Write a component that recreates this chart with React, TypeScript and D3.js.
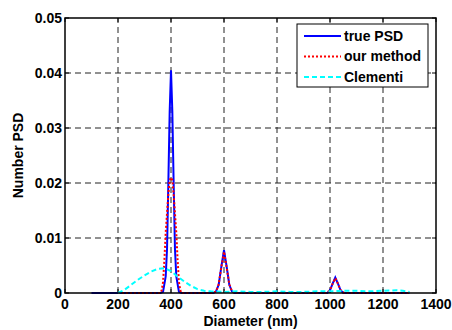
import * as d3 from 'd3';

// true PSD (blue)
const trueD = [100, 360, 370, 380, 385, 390, 395, 400, 405, 410, 415, 420, 430, 440, 560, 570, 580, 590, 600, 610, 620, 630, 640, 990, 1000, 1010, 1020, 1030, 1040, 1050, 1300];
const trueV = [0, 0, 0.0002, 0.003, 0.008, 0.02, 0.033, 0.0405, 0.033, 0.02, 0.008, 0.003, 0.0002, 0, 0, 0.0003, 0.0015, 0.0048, 0.0078, 0.0048, 0.0015, 0.0003, 0, 0, 0.0005, 0.0017, 0.0028, 0.0017, 0.0005, 0, 0];

// our method (red dotted)
const ourD = [200, 360, 365, 370, 375, 380, 390, 395, 400, 405, 410, 420, 425, 430, 435, 440, 560, 570, 580, 590, 600, 610, 620, 630, 640, 985, 1000, 1010, 1020, 1030, 1040, 1055, 1300];
const ourV = [0, 0, 0.0005, 0.002, 0.006, 0.011, 0.018, 0.0205, 0.021, 0.0205, 0.018, 0.011, 0.006, 0.002, 0.0005, 0, 0, 0.0003, 0.0016, 0.0047, 0.0075, 0.0047, 0.0016, 0.0003, 0, 0, 0.0005, 0.0017, 0.0027, 0.0017, 0.0005, 0, 0];

// Clementi (cyan dashed)
const clemD = [200, 225, 250, 275, 300, 325, 350, 375, 400, 425, 450, 475, 500, 525, 550, 600, 650, 700, 750, 800, 850, 900, 950, 1000, 1050, 1100, 1150, 1200, 1250, 1275, 1300];
const clemV = [0, 0.0006, 0.0015, 0.0024, 0.0032, 0.0039, 0.0044, 0.0045, 0.004, 0.003, 0.0021, 0.0013, 0.0007, 0.0004, 0.0003, 0.0002, 0.0003, 0.0002, 0.0002, 0.0003, 0.0002, 0.0002, 0.0003, 0.0003, 0.0004, 0.0004, 0.0003, 0.0004, 0.0005, 0.0004, 0.0002];

const xTicks = [0, 200, 400, 600, 800, 1000, 1200, 1400];
const yTicks = [0, 0.01, 0.02, 0.03, 0.04, 0.05];
const yTickLabels = ['0', '0.01', '0.02', '0.03', '0.04', '0.05'];

const legendItems = [
  { label: 'true PSD', color: '#0000ff', dash: 'none' },
  { label: 'our method', color: '#ff0000', dash: '2,2' },
  { label: 'Clementi', color: '#00ffff', dash: '5,3' },
];

const W = 452;
const H = 330;
const m = { left: 65, right: 16, top: 18, bottom: 37 };
const font = '"Liberation Sans", Arial, Helvetica, sans-serif';

export default function App() {
  const x = d3.scaleLinear().domain([0, 1400]).range([m.left, W - m.right]);
  const y = d3.scaleLinear().domain([0, 0.05]).range([H - m.bottom, m.top]);

  const line = (ds: number[], vs: number[]) =>
    d3.line<number>()
      .x((d) => x(d))
      .y((_, i) => y(vs[i]))(ds) || '';

  const x0 = x(0), x1 = x(1400), y0 = y(0), y1 = y(0.05);
  const tick = 4;

  const lg = { x: 297, y: 24, w: 131, h: 63 };

  return (
    <svg width={W} height={H} style={{ position: 'absolute', left: 0, top: 0, background: '#fff' }}>
      <rect x={0} y={0} width={W} height={H} fill="#fff" />
      {/* grid */}
      <g stroke="#222" strokeWidth={1} strokeDasharray="6,4">
        {xTicks.slice(1, -1).map((t) => (
          <line key={'gx' + t} x1={x(t)} x2={x(t)} y1={y0} y2={y1} />
        ))}
        {yTicks.slice(1, -1).map((t) => (
          <line key={'gy' + t} x1={x0} x2={x1} y1={y(t)} y2={y(t)} />
        ))}
      </g>
      {/* ticks */}
      <g stroke="#000" strokeWidth={1}>
        {xTicks.map((t) => (
          <g key={'tx' + t}>
            <line x1={x(t)} x2={x(t)} y1={y0} y2={y0 - tick} />
            <line x1={x(t)} x2={x(t)} y1={y1} y2={y1 + tick} />
          </g>
        ))}
        {yTicks.map((t) => (
          <g key={'ty' + t}>
            <line x1={x0} x2={x0 + tick} y1={y(t)} y2={y(t)} />
            <line x1={x1} x2={x1 - tick} y1={y(t)} y2={y(t)} />
          </g>
        ))}
      </g>
      {/* series */}
      <path d={line(trueD, trueV)} fill="none" stroke="#0000ff" strokeWidth={2} />
      <path d={line(ourD, ourV)} fill="none" stroke="#ff0000" strokeWidth={2} strokeDasharray="2,2" />
      <path d={line(clemD, clemV)} fill="none" stroke="#00ffff" strokeWidth={2} strokeDasharray="5,3" />
      {/* box */}
      <rect x={x0} y={y1} width={x1 - x0} height={y0 - y1} fill="none" stroke="#000" strokeWidth={1.5} />
      {/* tick labels */}
      <g fontFamily={font} fontWeight="bold" fontSize={14} fill="#000">
        {xTicks.map((t) => (
          <text key={'lx' + t} x={x(t)} y={309} textAnchor="middle">{t}</text>
        ))}
        {yTicks.map((t, i) => (
          <text key={'ly' + t} x={x0 - 3} y={y(t)} dy="0.35em" textAnchor="end">{yTickLabels[i]}</text>
        ))}
        <text x={(x0 + x1) / 2} y={326} textAnchor="middle">Diameter (nm)</text>
        <text transform={`translate(23,${(y0 + y1) / 2}) rotate(-90)`} textAnchor="middle">Number PSD</text>
      </g>
      {/* legend */}
      <rect x={lg.x} y={lg.y} width={lg.w} height={lg.h} fill="#fff" stroke="#000" strokeWidth={1} />
      {legendItems.map((it, i) => {
        const cy = 36 + i * 20.5;
        return (
          <g key={it.label}>
            <line x1={304} x2={341} y1={cy} y2={cy} stroke={it.color} strokeWidth={2} strokeDasharray={it.dash} />
            <text x={344} y={cy} dy="0.35em" fontFamily={font} fontWeight="bold" fontSize={14}>{it.label}</text>
          </g>
        );
      })}
    </svg>
  );
}
